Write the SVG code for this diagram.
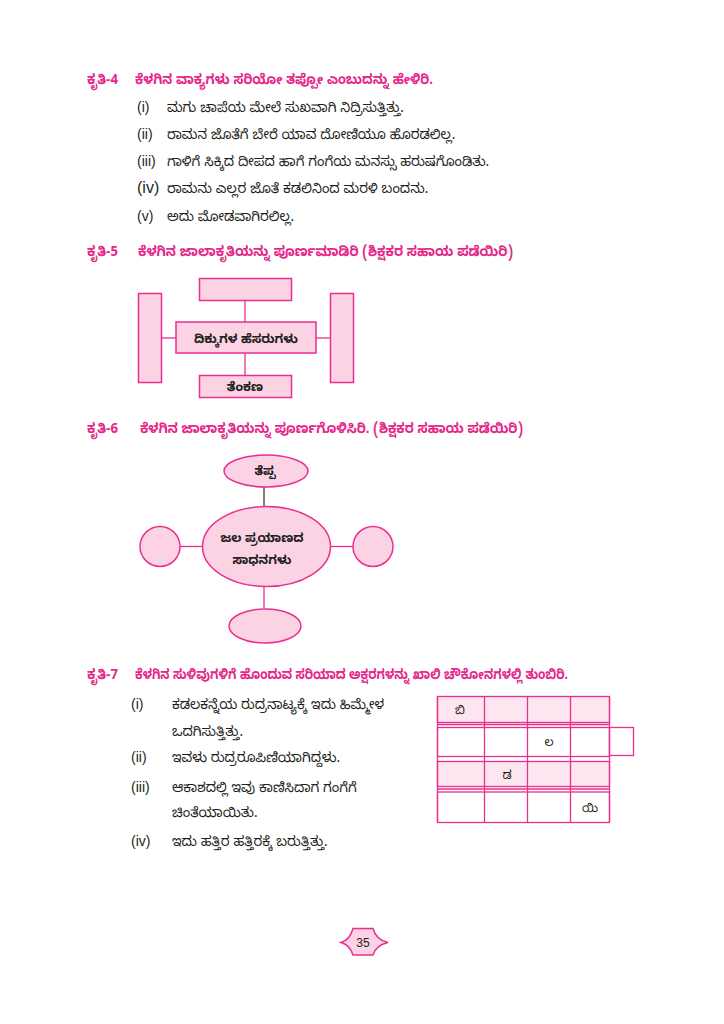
<svg xmlns="http://www.w3.org/2000/svg" width="724" height="1024" viewBox="0 0 724 1024">
<style>
.h{font-family:"Noto Sans Kannada","Noto Sans","Liberation Sans",sans-serif;font-size:14px;font-weight:bold;fill:#e5288a}
.t{font-family:"Noto Sans Kannada","Noto Sans","Liberation Sans",sans-serif;font-size:13.5px;fill:#231f20}
.n{font-family:"Liberation Sans",sans-serif;font-size:14px;fill:#231f20}
.c{font-family:"Noto Sans Kannada","Noto Sans","Liberation Sans",sans-serif;font-size:12.5px;font-weight:bold;fill:#231f20;text-anchor:middle}
.g{font-family:"Noto Sans Kannada","Noto Sans","Liberation Sans",sans-serif;font-size:12px;fill:#231f20;text-anchor:middle}
.box{fill:#fbd3e5;stroke:#ea2f8f;stroke-width:1.5}
.ln{stroke:#ea2f8f;stroke-width:1.3;fill:none}
.gp{fill:#fde6f0;stroke:#ea2f8f;stroke-width:1.3}
.gw{fill:#ffffff;stroke:#ea2f8f;stroke-width:1.3}
</style>
<rect width="724" height="1024" fill="#ffffff"/>

<g id="sec4">
<text class="h" x="87" y="84" textLength="31" lengthAdjust="spacingAndGlyphs">ಕೃತಿ-4</text>
<text class="h" x="135" y="84" textLength="298" lengthAdjust="spacingAndGlyphs">ಕೆಳಗಿನ ವಾಕ್ಯಗಳು ಸರಿಯೋ ತಪ್ಪೋ ಎಂಬುದನ್ನು ಹೇಳಿರಿ.</text>
<text class="n" x="137" y="112">(i)</text><text class="t" x="167" y="112">ಮಗು ಚಾಪೆಯ ಮೇಲೆ ಸುಖವಾಗಿ ನಿದ್ರಿಸುತ್ತಿತ್ತು.</text>
<text class="n" x="137" y="139">(ii)</text><text class="t" x="167" y="139">ರಾಮನ ಜೊತೆಗೆ ಬೇರೆ ಯಾವ ದೋಣಿಯೂ ಹೊರಡಲಿಲ್ಲ.</text>
<text class="n" x="137" y="166">(iii)</text><text class="t" x="167" y="166">ಗಾಳಿಗೆ ಸಿಕ್ಕಿದ ದೀಪದ ಹಾಗೆ ಗಂಗೆಯ ಮನಸ್ಸು ಹರುಷಗೊಂಡಿತು.</text>
<text class="n" x="137" y="193" style="font-size:16px">(iv)</text><text class="t" x="167" y="193">ರಾಮನು ಎಲ್ಲರ ಜೊತೆ ಕಡಲಿನಿಂದ ಮರಳಿ ಬಂದನು.</text>
<text class="n" x="137" y="221">(v)</text><text class="t" x="167" y="221">ಅದು ಮೋಡವಾಗಿರಲಿಲ್ಲ.</text>
</g>

<g id="sec5-title">
<text class="h" x="87" y="256" textLength="31" lengthAdjust="spacingAndGlyphs">ಕೃತಿ-5</text>
<text class="h" x="138" y="256" textLength="375" lengthAdjust="spacingAndGlyphs">ಕೆಳಗಿನ ಜಾಲಾಕೃತಿಯನ್ನು ಪೂರ್ಣಮಾಡಿರಿ (ಶಿಕ್ಷಕರ ಸಹಾಯ ಪಡೆಯಿರಿ)</text>
</g>
<g id="sec5-connectors">
<line class="ln" x1="245" y1="300" x2="245" y2="322"/>
<line class="ln" x1="245" y1="353" x2="245" y2="375"/>
<line class="ln" x1="162" y1="338" x2="176" y2="338"/>
<line class="ln" x1="316" y1="338" x2="330" y2="338"/>
</g>
<g id="s5-top"><rect class="box" x="199.5" y="278.5" width="92" height="22"/></g>
<g id="s5-left"><rect class="box" x="138.5" y="293.5" width="23" height="89"/></g>
<g id="s5-right"><rect class="box" x="330.5" y="293.5" width="23" height="89"/></g>
<g id="s5-center"><rect class="box" x="176" y="322" width="140" height="31"/><text class="c" x="246" y="343">ದಿಕ್ಕುಗಳ ಹೆಸರುಗಳು</text></g>
<g id="s5-bottom"><rect class="box" x="199.5" y="375.5" width="92" height="22"/><text class="c" x="245" y="391">ತೆಂಕಣ</text></g>

<g id="sec6-title">
<text class="h" x="87" y="433" textLength="31" lengthAdjust="spacingAndGlyphs">ಕೃತಿ-6</text>
<text class="h" x="140" y="433" textLength="383" lengthAdjust="spacingAndGlyphs">ಕೆಳಗಿನ ಜಾಲಾಕೃತಿಯನ್ನು ಪೂರ್ಣಗೊಳಿಸಿರಿ. (ಶಿಕ್ಷಕರ ಸಹಾಯ ಪಡೆಯಿರಿ)</text>
</g>
<g id="sec6-connectors">
<line x1="264" y1="487" x2="264" y2="507" stroke="#555" stroke-width="1.5"/>
<line class="ln" x1="264" y1="586" x2="264" y2="608"/>
<line class="ln" x1="180" y1="546.5" x2="203" y2="546.5"/>
<line class="ln" x1="330" y1="546.5" x2="353" y2="546.5"/>
</g>
<g id="s6-top"><ellipse class="box" cx="266" cy="471" rx="42" ry="16"/><text class="c" x="265" y="475">ತೆಪ್ಪ</text></g>
<g id="s6-center"><ellipse class="box" cx="266.5" cy="546.5" rx="64" ry="40"/><text class="c" x="262" y="542">ಜಲ ಪ್ರಯಾಣದ</text><text class="c" x="262" y="564">ಸಾಧನಗಳು</text></g>
<g id="s6-left"><circle class="box" cx="160" cy="546.5" r="20"/></g>
<g id="s6-right"><circle class="box" cx="373" cy="546.5" r="20"/></g>
<g id="s6-bottom"><ellipse class="box" cx="265" cy="626" rx="36" ry="17"/></g>

<g id="sec7">
<text class="h" x="87" y="679" textLength="31" lengthAdjust="spacingAndGlyphs">ಕೃತಿ-7</text>
<text class="h" x="135" y="679" textLength="433" lengthAdjust="spacingAndGlyphs">ಕೆಳಗಿನ ಸುಳಿವುಗಳಿಗೆ ಹೊಂದುವ ಸರಿಯಾದ ಅಕ್ಷರಗಳನ್ನು ಖಾಲಿ ಚೌಕೋನಗಳಲ್ಲಿ ತುಂಬಿರಿ.</text>
<text class="n" x="131" y="709">(i)</text><text class="t" x="172" y="709">ಕಡಲಕನ್ನೆಯ ರುದ್ರನಾಟ್ಯಕ್ಕೆ ಇದು ಹಿಮ್ಮೇಳ</text>
<text class="t" x="172" y="736">ಒದಗಿಸುತ್ತಿತ್ತು.</text>
<text class="n" x="131" y="762">(ii)</text><text class="t" x="172" y="762">ಇವಳು ರುದ್ರರೂಪಿಣಿಯಾಗಿದ್ದಳು.</text>
<text class="n" x="131" y="792">(iii)</text><text class="t" x="172" y="792">ಆಕಾಶದಲ್ಲಿ ಇವು ಕಾಣಿಸಿದಾಗ ಗಂಗೆಗೆ</text>
<text class="t" x="172" y="817">ಚಿಂತೆಯಾಯಿತು.</text>
<text class="n" x="131" y="846">(iv)</text><text class="t" x="172" y="846">ಇದು ಹತ್ತಿರ ಹತ್ತಿರಕ್ಕೆ ಬರುತ್ತಿತ್ತು.</text>
</g>

<g id="grid">
<rect class="gp" x="437.5" y="696.5" width="172" height="26"/>
<rect class="gw" x="437.5" y="727.5" width="172" height="29"/>
<rect class="gw" x="609.5" y="727.5" width="24" height="28"/>
<rect class="gp" x="437.5" y="761.5" width="172" height="25"/>
<rect class="gw" x="437.5" y="792" width="172" height="30.5"/>
<line class="ln" x1="437.5" y1="724.5" x2="609.5" y2="724.5" stroke-width="0.8"/>
<line class="ln" x1="437.5" y1="789" x2="609.5" y2="789" stroke-width="0.8"/>
<line class="ln" x1="484.5" y1="696.5" x2="484.5" y2="822.5"/>
<line class="ln" x1="527.5" y1="696.5" x2="527.5" y2="822.5"/>
<line class="ln" x1="570.5" y1="696.5" x2="570.5" y2="822.5"/>
<line class="ln" x1="437.5" y1="696.5" x2="437.5" y2="822.5"/>
<line class="ln" x1="609.5" y1="696.5" x2="609.5" y2="822.5"/>
<text class="g" x="460" y="714">ಬಿ</text>
<text class="g" x="549" y="746">ಲ</text>
<text class="g" x="507" y="779">ಡ</text>
<text class="g" x="590" y="812">ಯಿ</text>
</g>

<g id="page">
<path d="M353,928.5 L373,928.5 Q376,940 388,942.5 Q376,945 373,955 L353,955 Q350,945 341,942.5 Q350,940 353,928.5 Z" fill="#fbd3e5" stroke="#ea2f8f" stroke-width="1.5"/>
<text x="363" y="947" font-family="Liberation Sans,sans-serif" font-size="12" text-anchor="middle" fill="#231f20">35</text>
</g>
</svg>
